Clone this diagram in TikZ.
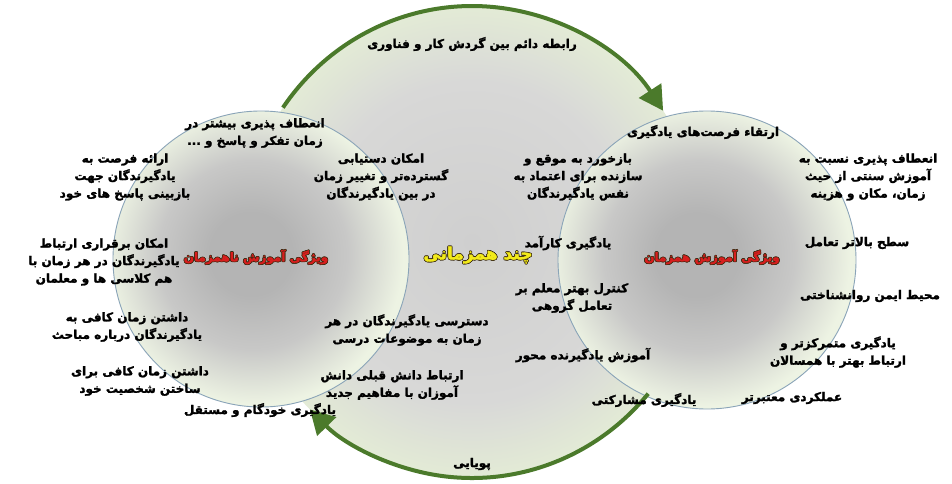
\documentclass[tikz,border=0pt]{standalone}
\usepackage{fontspec}
\usetikzlibrary{arrows.meta}
\TeXXeTstate=1
\newfontfamily\arabicfont[Script=Arabic,BoldFont={DejaVu Sans Bold},BoldFeatures={FakeBold=2}]{DejaVu Sans}
\newcommand\fa[1]{{\arabicfont\bfseries\beginR #1\endR}}
\newcommand\outl[3]{\leavevmode
 \rlap{\color{#1}\hspace*{-0.7pt}#3}\rlap{\color{#1}\hspace*{0.7pt}#3}%
 \rlap{\color{#1}\raisebox{0.7pt}{#3}}\rlap{\color{#1}\raisebox{-0.7pt}{#3}}%
 \rlap{\color{#1}\hspace*{0.5pt}\raisebox{0.5pt}{#3}}\rlap{\color{#1}\hspace*{-0.5pt}\raisebox{-0.5pt}{#3}}%
 \rlap{\color{#1}\hspace*{0.5pt}\raisebox{-0.5pt}{#3}}\rlap{\color{#1}\hspace*{-0.5pt}\raisebox{0.5pt}{#3}}%
 {\color{#2}#3}}
\definecolor{arcg}{HTML}{4B7A2B}
\definecolor{sg1}{HTML}{B4B4B4}
\definecolor{sg2}{HTML}{C8C8C7}
\definecolor{sg3}{HTML}{EDF3E3}
\definecolor{bg1}{HTML}{CFCFCF}
\definecolor{bg2}{HTML}{D8D8D7}
\definecolor{bg3}{HTML}{E3EBD6}
\definecolor{cline}{HTML}{8AA4B8}
\definecolor{tred}{HTML}{D81E1E}
\definecolor{tyel}{HTML}{F2EA1A}
\definecolor{tdark}{HTML}{3A2A10}
\pgfdeclareradialshading{smallball}{\pgfpoint{-2bp}{1bp}}{color(0bp)=(sg1); color(7bp)=(sg1); color(16bp)=(sg2); color(25bp)=(sg3); color(50bp)=(sg3)}
\pgfdeclareradialshading{bigball}{\pgfpoint{0bp}{0bp}}{color(0bp)=(bg1); color(17bp)=(bg2); color(25bp)=(bg3); color(50bp)=(bg3)}
\begin{document}
\begin{tikzpicture}[x=1pt,y=-1pt,
  lbl/.style={align=center,font=\fontsize{12}{17.5}\selectfont,inner sep=0pt,text=black},
  ttl/.style={font=\fontsize{12}{15}\selectfont,inner sep=0pt},
  ctl/.style={font=\fontsize{17}{20}\selectfont,inner sep=0pt},
  flow/.style={draw=arcg,line width=4pt,-{Triangle[length=24pt,width=26pt]}},
  smallc/.style={circle,draw=cline,line width=0.9pt,shade,shading=smallball,minimum size=#1,inner sep=0pt}]
\useasboundingbox (0,0) rectangle (952,484);
\fill[white] (0,0) rectangle (952,484);
% big background circle
\coordinate (bc) at (472,242);
\shade[shading=bigball] (bc) ellipse[x radius=230,y radius=236];
% two small circles
\node[smallc=296pt] (lc) at (261,259) {};
\node[smallc=298pt] (rc) at (707,260) {};
% flow arcs
\draw[flow] (bc) ++(-145.3:230 and 236) coordinate (ts) arc[start angle=-145.3,end angle=-33.8,x radius=230,y radius=236];
\draw[flow] (bc) ++(40:230 and 236) coordinate (bs) arc[start angle=40,end angle=134.8,x radius=230,y radius=236];
% labels
\node[lbl] (t0) at (472,44) {\fa{رابطه دائم بین گردش کار و فناوری}};
\node[lbl] (b0) at (472,464) {\fa{پویایی}};
\node[lbl] (l1) at (255,133) {\fa{انعطاف پذیری بیشتر در}\\\fa{زمان تفکر و پاسخ و ...}};
\node[lbl] (l2) at (125,177) {\fa{ارائه فرصت به}\\\fa{یادگیرندگان جهت}\\\fa{بازبینی پاسخ های خود}};
\node[lbl] (l3) at (381,177) {\fa{امکان دستیابی}\\\fa{گسترده‌تر و تغییر زمان}\\\fa{در بین یادگیرندگان}};
\node[lbl] (l4) at (104,262) {\fa{امکان برقراری ارتباط}\\\fa{یادگیرندگان در هر زمان با}\\\fa{هم کلاسی ها و معلمان}};
\node[lbl] (l5) at (127,327) {\fa{داشتن زمان کافی به}\\\fa{یادگیرندگان درباره مباحث}};
\node[lbl] (l6) at (407,330) {\fa{دسترسی یادگیرندگان در هر}\\\fa{زمان به موضوعات درسی}};
\node[lbl] (l7) at (140,381) {\fa{داشتن زمان کافی برای}\\\fa{ساختن شخصیت خود}};
\node[lbl] (l8) at (392,385) {\fa{ارتباط دانش قبلی دانش}\\\fa{آموزان با مفاهیم جدید}};
\node[lbl] (l9) at (260,410) {\fa{یادگیری خودگام و مستقل}};
\node[lbl] (r1) at (578,177) {\fa{بازخورد به موقع و}\\\fa{سازنده برای اعتماد به}\\\fa{نفس یادگیرندگان}};
\node[lbl] (r2) at (703,132) {\fa{ارتقاء فرصت‌های یادگیری}};
\node[lbl] (r3) at (868,177) {\fa{انعطاف پذیری نسبت به}\\\fa{آموزش سنتی از حیث}\\\fa{زمان، مکان و هزینه}};
\node[lbl] (r4) at (568,243) {\fa{یادگیری کارآمد}};
\node[lbl] (r5) at (857,243) {\fa{سطح بالاتر تعامل}};
\node[lbl] (r6) at (572,298) {\fa{کنترل بهتر معلم بر}\\\fa{تعامل گروهی}};
\node[lbl] (r7) at (870,296) {\fa{محیط ایمن روانشناختی}};
\node[lbl] (r8) at (838,352) {\fa{یادگیری متمرکزتر و}\\\fa{ارتباط بهتر با همسالان}};
\node[lbl] (r9) at (583,355) {\fa{آموزش یادگیرنده محور}};
\node[lbl] (r10) at (644,400) {\fa{یادگیری مشارکتی}};
\node[lbl] (r11) at (792,398) {\fa{عملکردی معتبرتر}};
% titles
\node[ttl] (tl) at (256,257) {\outl{tdark}{tred}{\fa{ویژگی آموزش ناهمزمان}}};
\node[ttl] (tr) at (712,257) {\outl{tdark}{tred}{\fa{ویژگی آموزش همزمان}}};
\node[ctl] (tc) at (478,255) {\outl{tdark}{tyel}{\fa{چند همزمانی}}};
\end{tikzpicture}
\end{document}
